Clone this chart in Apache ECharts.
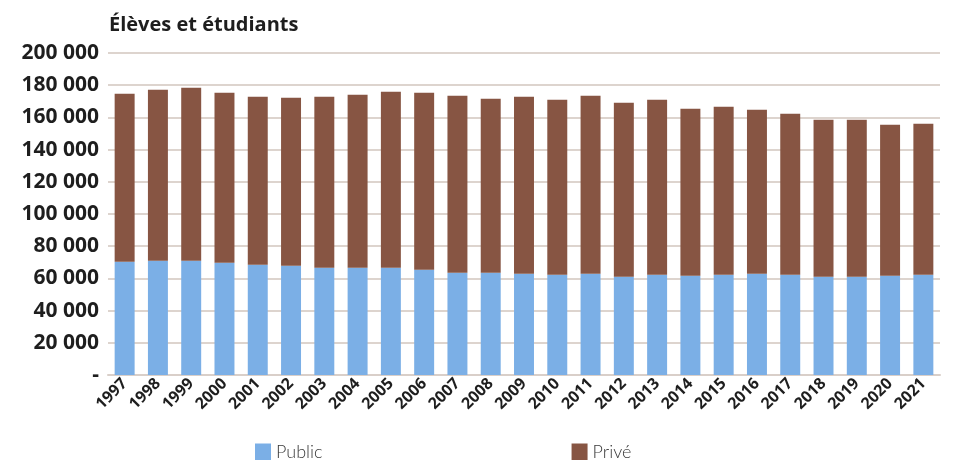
<!DOCTYPE html>
<html>
<head>
<meta charset="utf-8">
<script src="https://cdn.jsdelivr.net/npm/echarts@6/dist/echarts.min.js"></script>
<style>
  html, body { margin: 0; padding: 0; background: #fff; }
  #chart { width: 953px; height: 460px; }
</style>
</head>
<body>
<div id="chart"></div>
<script>
// années
const years = ['1997', '1998', '1999', '2000', '2001', '2002', '2003', '2004', '2005',
  '2006', '2007', '2008', '2009', '2010', '2011', '2012', '2013', '2014', '2015',
  '2016', '2017', '2018', '2019', '2020', '2021']

// effectifs du public
const publicData = [70400, 71000, 71000, 69700, 68500, 67900, 66600, 66600, 66600,
  65400, 63500, 63500, 62900, 62300, 62900, 61000, 62300, 61700, 62300,
  62900, 62300, 61000, 61000, 61700, 62300]

// effectifs du privé
const priveData = [104300, 106200, 107400, 105600, 104400, 104300, 106300, 107500, 109400,
  109900, 110000, 108100, 110000, 108700, 110600, 108100, 108700, 103700, 104300,
  101900, 100000, 97600, 97600, 93800, 93800]

const seriesNames = ['Public', 'Privé']

const chart = echarts.init(document.getElementById('chart'))

function fmt(v) {
  if (v === 0) return '-'
  return String(v).replace(/\B(?=(\d{3})+(?!\d))/g, ' ')
}

chart.setOption({
  animation: false,
  title: {
    text: 'Élèves et étudiants',
    left: 104,
    top: 10,
    textStyle: {
      fontFamily: 'Open Sans',
      fontSize: 20,
      fontWeight: 'bold',
      color: '#1e1e1e'
    }
  },
  legend: {
    data: seriesNames,
    left: 250,
    top: 438,
    itemWidth: 16,
    itemHeight: 17,
    itemGap: 249,
    icon: 'rect',
    textStyle: {
      fontFamily: 'Lato',
      fontSize: 18,
      fontWeight: 300,
      color: '#3a3a3a'
    }
  },
  grid: {
    left: 108,
    right: 13,
    top: 53,
    bottom: 85,
    containLabel: false
  },
  xAxis: {
    type: 'category',
    data: years,
    axisTick: { show: false },
    axisLine: { lineStyle: { color: '#d9cfc9', width: 2 } },
    axisLabel: {
      rotate: 45,
      margin: 6,
      fontFamily: 'Open Sans',
      fontSize: 16,
      fontWeight: 'bold',
      color: '#1e1e1e'
    }
  },
  yAxis: {
    type: 'value',
    min: 0,
    max: 200000,
    interval: 20000,
    axisLine: { show: false },
    axisTick: { show: false },
    splitLine: { lineStyle: { color: '#ddd4ce', width: 2 } },
    axisLabel: {
      formatter: fmt,
      margin: 9,
      fontFamily: 'Open Sans',
      fontSize: 21,
      fontWeight: 'bold',
      color: '#1e1e1e'
    }
  },
  series: [
    {
      name: seriesNames[0],
      type: 'bar',
      stack: 'total',
      barWidth: '60%',
      itemStyle: { color: '#7bafe6' },
      data: publicData
    },
    {
      name: seriesNames[1],
      type: 'bar',
      stack: 'total',
      barWidth: '60%',
      itemStyle: { color: '#875543' },
      data: priveData
    }
  ]
})
</script>
</body>
</html>
